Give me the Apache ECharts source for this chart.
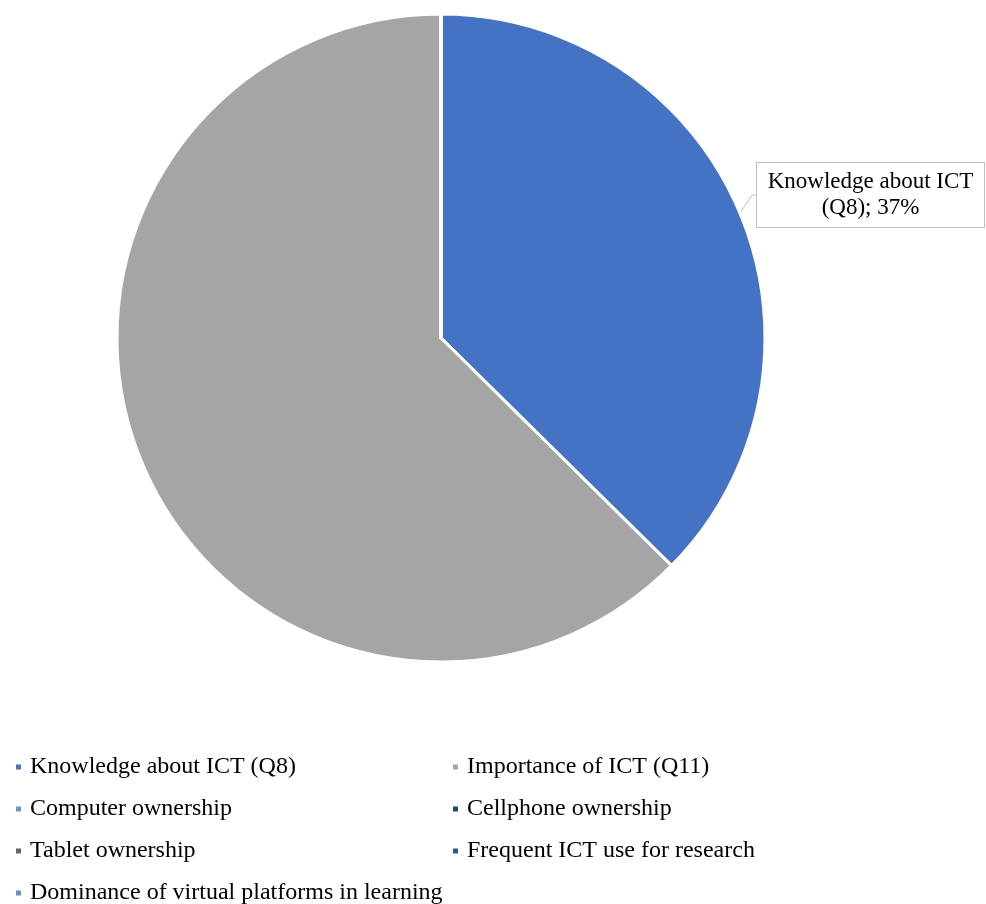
<!DOCTYPE html>
<html><head><meta charset="utf-8">
<script src="https://cdn.jsdelivr.net/npm/echarts@6/dist/echarts.min.js"></script>
<style>html,body{margin:0;padding:0;background:#fff}#c{width:986px;height:904px}</style>
</head><body><div id="c"></div>
<script>
const categories = ["Knowledge about ICT (Q8)","Importance of ICT (Q11)","Computer ownership","Cellphone ownership","Tablet ownership","Frequent ICT use for research","Dominance of virtual platforms in learning"];
const values = [37.4, 62.6, 0, 0, 0, 0, 0];
const colors = ["#4472C4","#A5A5A5","#5B9BD5","#264478","#636363","#255E91","#698ED0"];
const labelled = [0];

const chart = echarts.init(document.getElementById('c'));
const font = '"Liberation Serif","Times New Roman",serif';
const data = categories.map((n,i)=>({
  name:n, value:values[i], itemStyle:{color:colors[i]},
  label:{show: labelled.includes(i)}, labelLine:{show: labelled.includes(i)}
}));
const leftCol = categories.filter((_,i)=>i%2===0);
const rightCol = categories.filter((_,i)=>i%2===1);
const legendBase = {orient:'vertical', icon:'rect', itemWidth:7, itemHeight:7, itemGap:18,
  height:200, width:430,
  textStyle:{fontFamily:font, fontSize:24, color:'#000', padding:[0,0,0,3]}, selectedMode:false};
chart.setOption({
  animation:false,
  color: colors,
  legend:[
    Object.assign({}, legendBase, {left:9, top:750, data:leftCol}),
    Object.assign({}, legendBase, {left:446, top:750, data:rightCol})
  ],
  series:[{
    type:'pie', center:[441,338], radius:[0,324], startAngle:90, clockwise:true,
    avoidLabelOverlap:false,
    itemStyle:{borderColor:'#fff', borderWidth:3},
    label:{fontFamily:font, fontSize:23, color:'#000', lineHeight:26, width:213,
      backgroundColor:'#fff', borderColor:'#BFBFBF', borderWidth:1, padding:[6,7,6,7],
      formatter: p => p.name.replace(' (', '\n(') + '; ' + Math.round(p.value) + '%',
      align:'center'},
    labelLine:{lineStyle:{color:'#BFBFBF', width:1}, length:4, length2:4},
    labelLayout: p => ({x:870.5, y:195, align:'center', verticalAlign:'middle'}),
    data:data
  }]
});
</script></body></html>
